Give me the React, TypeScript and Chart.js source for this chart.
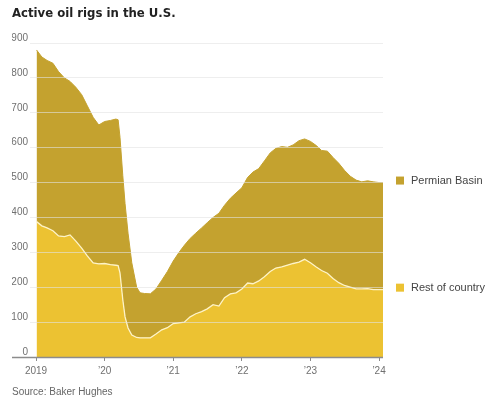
import React, { useEffect, useRef } from "react";
import { Chart, registerables } from "chart.js";
Chart.register(...registerables);

const dates = [
  "2019-01-04", "2019-02-01", "2019-03-01", "2019-04-01", "2019-05-01", "2019-06-01",
  "2019-07-01", "2019-08-01", "2019-09-01", "2019-10-01", "2019-11-01", "2019-12-01",
  "2020-01-01", "2020-02-01", "2020-03-01", "2020-03-13", "2020-03-23", "2020-04-07",
  "2020-04-19", "2020-05-05", "2020-05-25", "2020-06-20", "2020-07-08", "2020-08-01",
  "2020-09-01", "2020-10-01", "2020-11-01", "2020-12-01", "2021-01-01", "2021-02-01",
  "2021-03-01", "2021-04-01", "2021-05-01", "2021-06-01", "2021-07-01", "2021-08-01",
  "2021-09-01", "2021-10-01", "2021-11-01", "2021-12-01", "2022-01-01", "2022-02-01",
  "2022-03-01", "2022-04-01", "2022-05-01", "2022-06-01", "2022-07-01", "2022-08-01",
  "2022-09-01", "2022-10-01", "2022-11-01", "2022-12-01", "2023-01-01", "2023-02-01",
  "2023-03-01", "2023-04-01", "2023-05-01", "2023-06-01", "2023-07-01", "2023-08-01",
  "2023-09-01", "2023-10-01", "2023-11-01", "2023-12-01", "2024-01-01", "2024-01-22",
];

const restOfCountry = [
  388, 376, 370, 362, 347, 345, 350, 332, 312, 290, 270, 267,
  268, 265, 263, 262, 241, 164, 115, 83, 63, 56, 55, 55,
  55, 66, 78, 84, 96, 98, 100, 115, 124, 130, 138, 150,
  146, 170, 181, 184, 195, 212, 210, 218, 230, 245, 255, 258,
  263, 268, 272, 280, 270, 258, 248, 240, 225, 213, 205, 200,
  195, 195, 196, 193, 193, 193,
];

const permianBasin = [
  492, 484, 480, 480, 471, 455, 440, 441, 440, 430, 417, 398,
  407, 413, 419, 418, 389, 356, 325, 272, 207, 144, 129, 127,
  126, 129, 142, 161, 179, 202, 220, 225, 231, 240, 247, 250,
  266, 265, 274, 286, 290, 303, 320, 322, 332, 340, 343, 345,
  338, 340, 348, 345, 348, 348, 344, 350, 347, 342, 330, 318,
  312, 307, 309, 309, 307, 307,
];

const yearTicks = [2019, 2020, 2021, 2022, 2023, 2024];
const yearLabels = ["2019", "\u201920", "\u201921", "\u201922", "\u201923", "\u201924"];
const seriesNames = ["Rest of country", "Permian Basin"];
const seriesColors = ["#ecc232", "#c4a22f"];

const toYear = (d: string) => {
  const [y, m, dd] = d.split("-").map(Number);
  const start = Date.UTC(y, 0, 1);
  const end = Date.UTC(y + 1, 0, 1);
  return y + (Date.UTC(y, m - 1, dd) - start) / (end - start);
};

const xs = dates.map(toYear);

const extrasPlugin = {
  id: "extras",
  afterDraw(chart: any) {
    const { ctx, chartArea } = chart;
    ctx.save();
    // baseline axis
    ctx.strokeStyle = "#8c8c8c";
    ctx.lineWidth = 1.5;
    ctx.beginPath();
    ctx.moveTo(12, chartArea.bottom + 0.5);
    ctx.lineTo(chartArea.right, chartArea.bottom + 0.5);
    ctx.stroke();
    // legend at end values
    ctx.font = '11px "Liberation Sans", Arial, sans-serif';
    ctx.textBaseline = "middle";
    ctx.textAlign = "left";
    chart.data.datasets.forEach((ds: any, i: number) => {
      const meta = chart.getDatasetMeta(i);
      const pt = meta.data[meta.data.length - 1];
      if (!pt) return;
      const cy = pt.y - 2;
      const x0 = chartArea.right + 13;
      ctx.fillStyle = seriesColors[i];
      ctx.fillRect(x0, cy - 4, 8, 8);
      ctx.fillStyle = "#444";
      ctx.fillText(seriesNames[i], x0 + 15, cy + 0.5);
    });
    ctx.restore();
  },
};

export default function App() {
  const canvasRef = useRef<HTMLCanvasElement | null>(null);

  useEffect(() => {
    if (!canvasRef.current) return;
    const chart = new Chart(canvasRef.current, {
      type: "line",
      data: {
        datasets: [
          {
            label: seriesNames[0],
            data: xs.map((x, i) => ({ x, y: restOfCountry[i] })),
            backgroundColor: seriesColors[0],
            borderColor: "rgba(255,246,205,0.95)",
            borderWidth: 1.3,
            fill: "origin",
            pointRadius: 0,
            tension: 0,
          },
          {
            label: seriesNames[1],
            data: xs.map((x, i) => ({ x, y: permianBasin[i] })),
            backgroundColor: seriesColors[1],
            borderColor: seriesColors[1],
            borderWidth: 1,
            fill: "-1",
            pointRadius: 0,
            tension: 0,
          },
        ],
      },
      options: {
        animation: false,
        responsive: false,
        devicePixelRatio: 1,
        layout: { padding: { left: 12, right: 117, top: 43, bottom: 0 } },
        plugins: {
          legend: { display: false },
          tooltip: { enabled: false },
          title: { display: false },
        },
        scales: {
          x: {
            type: "linear",
            min: 2019,
            max: xs[xs.length - 1],
            afterBuildTicks: (scale: any) => {
              scale.ticks = yearTicks.map((v) => ({ value: v }));
            },
            afterFit: (scale: any) => {
              scale.height = 46;
            },
            grid: {
              drawOnChartArea: false,
              drawTicks: true,
              tickLength: 4,
              color: "#8c8c8c",
              lineWidth: 1,
            },
            border: { display: false },
            ticks: {
              autoSkip: false,
              maxRotation: 0,
              padding: 4,
              color: "#707070",
              font: { family: '"Liberation Sans", Arial, sans-serif', size: 10 },
              callback: (v: any) => {
                const idx = yearTicks.indexOf(Number(v));
                return idx >= 0 ? yearLabels[idx] : "";
              },
            },
          },
          y: {
            stacked: true,
            min: 0,
            max: 900,
            afterFit: (scale: any) => {
              scale.width = 24;
            },
            grid: {
              z: 1,
              color: "rgba(226,226,226,0.6)",
              lineWidth: 1,
              drawTicks: true,
              tickLength: 6,
            },
            border: { display: false },
            ticks: {
              stepSize: 100,
              padding: 2,
              labelOffset: -5,
              color: "#707070",
              font: { family: '"Liberation Sans", Arial, sans-serif', size: 10 },
            },
          },
        },
      },
      plugins: [extrasPlugin],
    } as any);
    return () => chart.destroy();
  }, []);

  return (
    <div style={{ position: "absolute", left: 0, top: 0, width: 500, height: 403, background: "#fff" }}>
      <div
        style={{
          position: "absolute",
          left: 12,
          top: 6,
          fontFamily: '"Liberation Sans Narrow", "DejaVu Sans Condensed", Arial, sans-serif',
          fontWeight: "bold",
          fontSize: 13,
          lineHeight: "13px",
          color: "#222",
          whiteSpace: "nowrap",
        }}
      >
        Active oil rigs in the U.S.
      </div>
      <canvas ref={canvasRef} width={500} height={403} style={{ display: "block", width: 500, height: 403 }} />
      <div
        style={{
          position: "absolute",
          left: 12,
          top: 387,
          fontFamily: '"Liberation Sans", Arial, sans-serif',
          fontSize: 10,
          lineHeight: "10px",
          color: "#666",
          whiteSpace: "nowrap",
        }}
      >
        Source: Baker Hughes
      </div>
    </div>
  );
}
